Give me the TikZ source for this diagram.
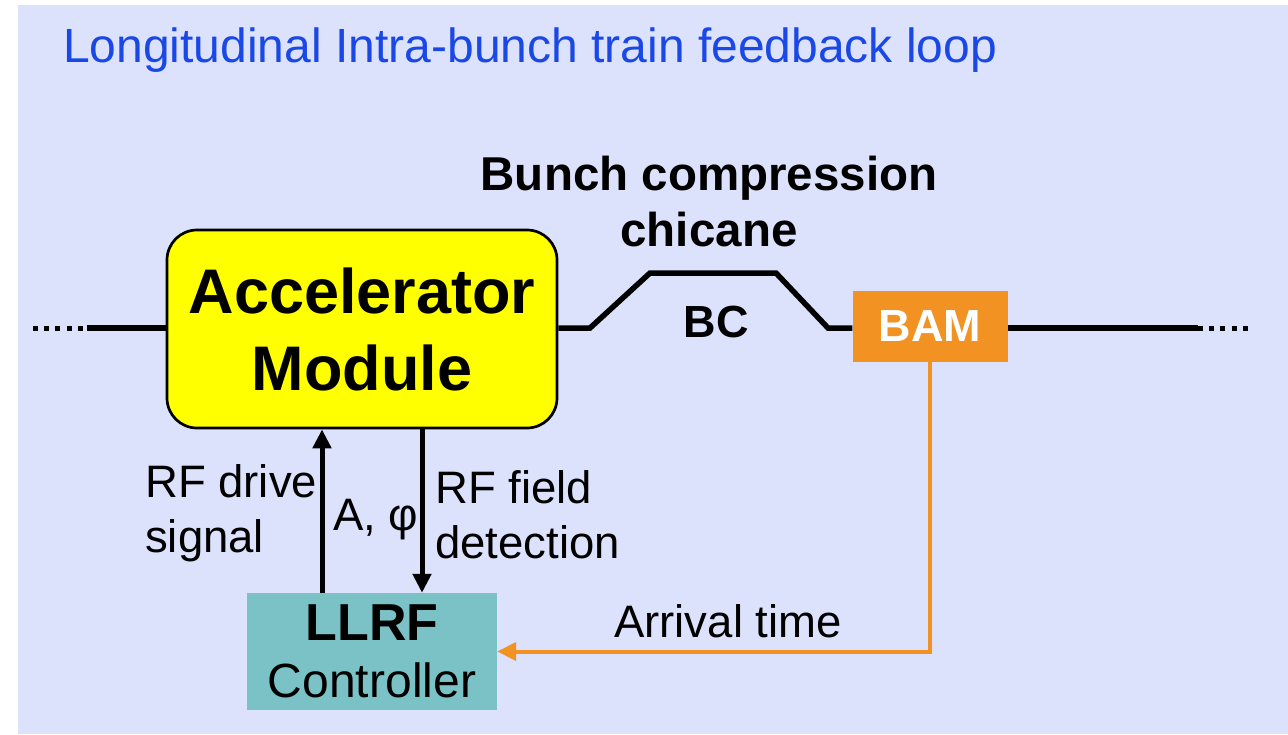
\documentclass[tikz,border=0pt]{standalone}
\usepackage{fontspec}
\setmainfont{Liberation Sans}
\usetikzlibrary{arrows.meta,positioning}

\definecolor{bgcol}{RGB}{221,226,252}
\definecolor{titleblue}{RGB}{26,72,230}
\definecolor{accyellow}{RGB}{255,255,0}
\definecolor{bamorange}{RGB}{242,146,34}
\definecolor{llrfteal}{RGB}{122,194,198}

\tikzset{
  beam/.style={line width=5.5pt},
  beamdots/.style={line width=5pt,dash pattern=on 5pt off 6.2pt},
  sig/.style={line width=5pt,-{Triangle[length=19pt,width=18pt]}},
  lbl/.style={inner sep=0pt,align=left,font=\fontsize{45.5}{55}\selectfont},
}

\begin{document}
\begin{tikzpicture}[x=1pt,y=-1pt]
\useasboundingbox (0,0) rectangle (1288,734);
\fill[bgcol] (18,5) rectangle (1288,734);

\node[anchor=base west,inner sep=0pt,text=titleblue,font=\fontsize{48}{56}\selectfont]
  (title) at (63,62) {Longitudinal Intra-bunch train feedback loop};

% blocks
\node[draw,line width=2.7pt,fill=accyellow,rounded corners=30pt,
  minimum width=390pt,minimum height=198pt,align=center,
  font=\fontsize{63}{77}\selectfont\bfseries] (acc) at (362,329) {Accelerator\\Module};
\node[fill=bamorange,minimum width=155pt,minimum height=71pt,text=white,
  font=\fontsize{45}{54}\selectfont\bfseries] (bam) at (930,326) {BAM};
\node[fill=llrfteal,minimum width=250pt,minimum height=117pt,align=center,
  font=\fontsize{48}{57}\selectfont] (llrf) at (372,651.5)
  {{\fontsize{52}{57}\selectfont\bfseries LLRF}\\Controller};

% beam line with chicane
\coordinate (in0) at (33,328);
\coordinate (in1) at (87,328);
\coordinate (out0) at (1198,328);
\coordinate (out1) at (1252,328);
\draw[beamdots] (in0) -- (in1);
\draw[beam] (in1) -- (acc.west |- in1);
\draw[beam] (acc.east |- in1) -- (590,328) -- (650,273) -- (776,273) -- (828,328) -- (bam.west |- in1);
\draw[beam] (bam.east |- in1) -- (out0);
\draw[beamdots] (out0) -- (out1);

\node[font=\fontsize{47.5}{56}\selectfont\bfseries,align=center] (bunch) at (709,202)
  {Bunch compression\\chicane};
\node[font=\fontsize{45}{54}\selectfont\bfseries] (bc) at (716,322) {BC};

% signals
\draw[sig] ([xshift=-50pt]llrf.north) -- ([xshift=-50pt]llrf.north |- acc.south);
\draw[sig] ([xshift=50pt]llrf.north |- acc.south) -- ([xshift=50pt]llrf.north);
\draw[sig,line width=4pt,bamorange] (bam.south) |- (llrf.east);

\node[lbl,anchor=west] (drive) at (145,513) {RF drive\\signal};
\node[lbl,anchor=base west] (amp) at (333,530) {A, φ};
\node[lbl,anchor=west] (field) at (435,515) {RF field\\detection};
\node[lbl,anchor=base] (arrival) at (728,637) {Arrival time};

\end{tikzpicture}
\end{document}
